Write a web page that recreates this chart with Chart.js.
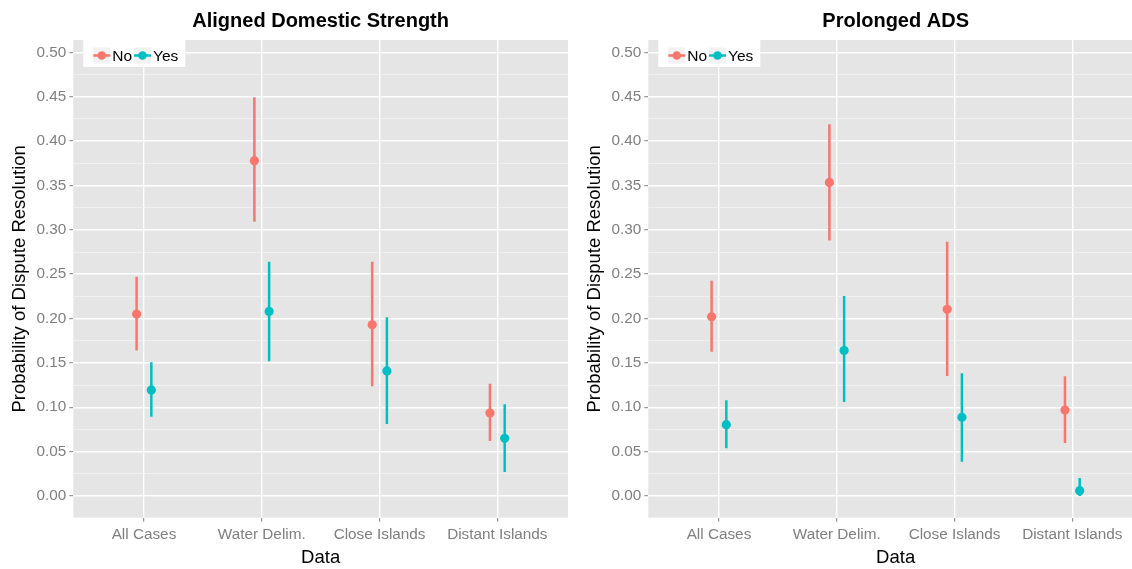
<!DOCTYPE html>
<html>
<head>
<meta charset="utf-8">
<script src="https://cdn.jsdelivr.net/npm/chart.js@4.4.0/dist/chart.umd.min.js"></script>
<style>
  html, body { margin: 0; padding: 0; background: #fff; overflow: hidden; }
  body { width: 1132px; height: 569px; position: relative; }
  .panel { position: absolute; top: 0; width: 576px; height: 569px; }
</style>
</head>
<body>
<div class="panel" style="left:0px"><canvas id="adsChart"></canvas></div>
<div class="panel" style="left:575px"><canvas id="prolChart"></canvas></div>
<script>
// categories and groups
const categories = ["All Cases", "Water Delim.", "Close Islands", "Distant Islands"];
const groups = ["No", "Yes"];
const groupColors = ["#F8766D", "#00BFC4"];

// Aligned Domestic Strength
const adsNoEst  = [0.205, 0.378, 0.193, 0.0935];
const adsNoLow  = [0.164, 0.309, 0.1236, 0.062];
const adsNoHigh = [0.247, 0.4496, 0.264, 0.1266];
const adsYesEst  = [0.1195, 0.208, 0.141, 0.065];
const adsYesLow  = [0.0894, 0.152, 0.081, 0.027];
const adsYesHigh = [0.1506, 0.264, 0.2014, 0.1033];

// Prolonged ADS
const prolNoEst  = [0.202, 0.3535, 0.2104, 0.0969];
const prolNoLow  = [0.1626, 0.288, 0.1352, 0.0597];
const prolNoHigh = [0.2427, 0.419, 0.2866, 0.1349];
const prolYesEst  = [0.0804, 0.164, 0.0887, 0.006];
const prolYesLow  = [0.0537, 0.106, 0.0387, 0.0];
const prolYesHigh = [0.1078, 0.2254, 0.1383, 0.0203];

const FONT = "'Liberation Sans', Arial, sans-serif";
const dodge = 0.0625;

function isMajor(v) {
  return Math.abs(Math.round(v * 1000) % 50) === 0;
}

function pointsOf(est, off) {
  return est.map((v, i) => ({ x: i + off, y: v }));
}

function barsOf(low, high, off) {
  const out = [];
  low.forEach((lo, i) => {
    out.push({ x: i + off, y: lo });
    out.push({ x: i + off, y: high[i] });
    out.push({ x: i + off, y: null });
  });
  return out;
}

const panelBg = {
  id: "panelBg",
  beforeDraw(chart) {
    const a = chart.chartArea;
    const ctx = chart.ctx;
    ctx.save();
    ctx.fillStyle = "#E5E5E5";
    ctx.fillRect(a.left, a.top, a.right - a.left, a.bottom - a.top);
    ctx.restore();
  }
};

const insideLegend = {
  id: "insideLegend",
  afterDraw(chart) {
    const a = chart.chartArea;
    const ctx = chart.ctx;
    const bx = a.left + 10, by = a.top;
    ctx.save();
    ctx.fillStyle = "#FFFFFF";
    ctx.fillRect(bx, by, 102, 27);
    const keyX = [bx + 10, bx + 50.7];
    const cy = by + 15.5;
    ctx.font = "15.5px " + FONT;
    ctx.textBaseline = "alphabetic";
    groups.forEach((g, i) => {
      ctx.fillStyle = "#F2F2F2";
      ctx.fillRect(keyX[i], cy - 8, 17, 16);
      ctx.strokeStyle = groupColors[i];
      ctx.lineWidth = 2.5;
      ctx.beginPath();
      ctx.moveTo(keyX[i], cy);
      ctx.lineTo(keyX[i] + 17, cy);
      ctx.stroke();
      ctx.fillStyle = groupColors[i];
      ctx.beginPath();
      ctx.arc(keyX[i] + 8.5, cy, 4.3, 0, Math.PI * 2);
      ctx.fill();
      ctx.fillStyle = "#000000";
      ctx.fillText(g, keyX[i] + 19, by + 21);
    });
    ctx.restore();
  }
};

function makePanel(id, title, noEst, noLow, noHigh, yesEst, yesLow, yesHigh) {
  const lineStyle = (c) => ({
    type: "scatter", showLine: true, spanGaps: false, pointRadius: 0,
    borderColor: c, borderWidth: 2.5, borderCapStyle: "butt", order: 2
  });
  const pointStyle = (c) => ({
    type: "scatter", pointRadius: 4.6, pointHoverRadius: 4.6,
    backgroundColor: c, borderWidth: 0, order: 1
  });
  return new Chart(document.getElementById(id), {
    type: "scatter",
    data: {
      datasets: [
        Object.assign({ label: groups[0] + " range", data: barsOf(noLow, noHigh, -dodge) }, lineStyle(groupColors[0])),
        Object.assign({ label: groups[1] + " range", data: barsOf(yesLow, yesHigh, dodge) }, lineStyle(groupColors[1])),
        Object.assign({ label: groups[0], data: pointsOf(noEst, -dodge) }, pointStyle(groupColors[0])),
        Object.assign({ label: groups[1], data: pointsOf(yesEst, dodge) }, pointStyle(groupColors[1]))
      ]
    },
    options: {
      responsive: true,
      maintainAspectRatio: false,
      animation: false,
      layout: { padding: { left: 0, right: 8, top: 0, bottom: 0 } },
      plugins: {
        legend: { display: false },
        tooltip: { enabled: false },
        title: {
          display: true,
          text: title,
          fullSize: false,
          color: "#000000",
          font: { family: FONT, size: 20, weight: "bold" },
          padding: { top: 9, bottom: 7 }
        }
      },
      scales: {
        x: {
          type: "linear",
          min: -0.6,
          max: 3.6,
          afterFit: (s) => { s.height = 51.3; },
          border: { display: false },
          grid: { color: "#FFFFFF", lineWidth: 1.4, tickColor: "#7F7F7F", tickLength: 4, tickWidth: 1 },
          ticks: {
            stepSize: 1,
            includeBounds: false,
            autoSkip: false,
            maxRotation: 0,
            padding: 4,
            color: "#7F7F7F",
            font: { family: FONT, size: 15.3 },
            callback: (v) => (Number.isInteger(v) && categories[v]) ? categories[v] : ""
          },
          title: {
            display: true, text: "Data", color: "#000000",
            font: { family: FONT, size: 18.5 },
            padding: { top: 0, bottom: 0 }
          }
        },
        y: {
          min: -0.0245,
          max: 0.514,
          afterFit: (s) => { s.width = 73.3; },
          border: { display: false },
          grid: {
            color: (c) => isMajor(c.tick.value) ? "#FFFFFF" : "#F2F2F2",
            lineWidth: (c) => isMajor(c.tick.value) ? 1.4 : 0.8,
            tickColor: (c) => isMajor(c.tick.value) ? "#7F7F7F" : "rgba(0,0,0,0)",
            tickLength: 4,
            tickWidth: 1
          },
          ticks: {
            stepSize: 0.025,
            includeBounds: false,
            autoSkip: false,
            padding: 3,
            color: "#7F7F7F",
            font: { family: FONT, size: 15.3 },
            callback: (v) => isMajor(v) ? v.toFixed(2) : ""
          },
          title: {
            display: true, text: "Probability of Dispute Resolution", color: "#000000",
            font: { family: FONT, size: 18.5 },
            padding: { top: 9, bottom: 0 }
          }
        }
      }
    },
    plugins: [panelBg, insideLegend]
  });
}

makePanel("adsChart", "Aligned Domestic Strength",
  adsNoEst, adsNoLow, adsNoHigh, adsYesEst, adsYesLow, adsYesHigh);
makePanel("prolChart", "Prolonged ADS",
  prolNoEst, prolNoLow, prolNoHigh, prolYesEst, prolYesLow, prolYesHigh);
</script>
</body>
</html>
